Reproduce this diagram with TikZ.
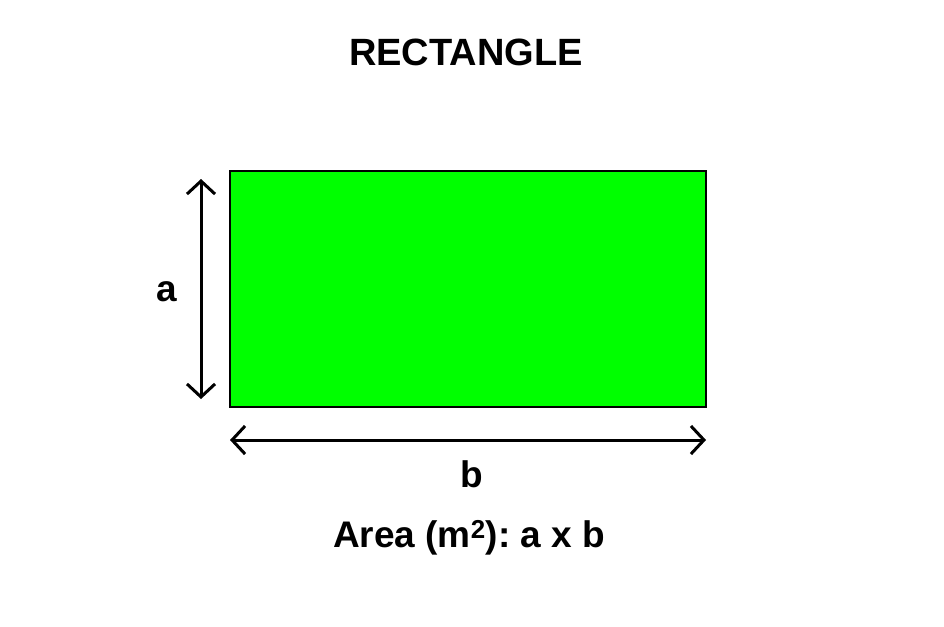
\documentclass[tikz,border=0pt]{standalone}
\usepackage{fontspec}
\setmainfont{Liberation Sans}
\usetikzlibrary{arrows.meta,positioning}
\frenchspacing

\begin{document}
\begin{tikzpicture}[x=1pt, y=-1pt,
  rectbox/.style={rectangle, draw, line width=2pt, fill=green!100,
                minimum width=476pt, minimum height=236pt, inner sep=0pt},
  dim/.style={line width=3pt, {Straight Barb[length=13pt,width=28pt]}-{Straight Barb[length=13pt,width=28pt]}},
  lbl/.style={font=\fontsize{37}{44}\selectfont\bfseries, inner sep=0pt},
]
  \useasboundingbox (0,0) rectangle (944,626);
  \node[font=\fontsize{38}{46}\selectfont\bfseries] (title) at (466,52) {RECTANGLE};
  \node[rectbox] (rect) at (468,289) {};
  % dimension arrows
  \coordinate (atop) at (201,179);
  \coordinate (abot) at (201,399);
  \coordinate (bleft) at (230,440);
  \coordinate (bright) at (706,440);
  \draw[dim] (atop) -- (abot);
  \draw[dim] (bleft) -- (bright);
  \node[lbl] (alabel) at (167,292) {a};
  \node[lbl] (blabel) at (472,474) {b};
  \node[lbl] (area) at (469,538) {Area (m\textsuperscript{2}): a x b};
\end{tikzpicture}
\end{document}
